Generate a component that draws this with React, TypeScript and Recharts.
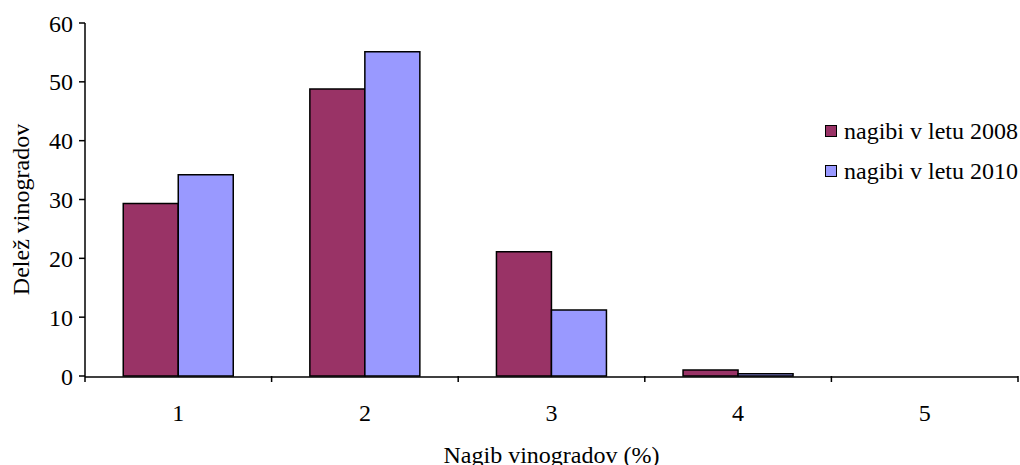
import { BarChart, Bar, XAxis, YAxis } from "recharts";

const categories = ["1", "2", "3", "4", "5"];
const nagibi2008 = [29.3, 48.8, 21.1, 1.0, 0];
const nagibi2010 = [34.2, 55.1, 11.2, 0.4, 0];
const yTicks = [0, 10, 20, 30, 40, 50, 60];
const bandTicks = [0.5, 1.5, 2.5, 3.5, 4.5, 5.5];

const series = [
  { key: "y2008", name: "nagibi v letu 2008", color: "#993366" },
  { key: "y2010", name: "nagibi v letu 2010", color: "#9999FF" },
];

const data = categories.map((c, i) => ({
  cat: c,
  pos: Number(c),
  y2008: nagibi2008[i],
  y2010: nagibi2010[i],
}));

const font = "Liberation Serif, Times New Roman, DejaVu Serif, serif";
const fontSize = 24;

// rotated y title, nudged a little below the plot's middle
const YTitle = ({ viewBox }: any) => {
  const cx = 21;
  const cy = viewBox.y + viewBox.height / 2 + 10;
  return (
    <text
      x={cx}
      y={cy}
      transform={`rotate(-90, ${cx}, ${cy})`}
      textAnchor="middle"
      dominantBaseline="central"
      fill="#000"
      fontSize={fontSize}
      fontFamily={font}
    >
      Delež vinogradov
    </text>
  );
};

export default function App() {
  return (
    <div
      style={{
        position: "absolute",
        left: 0,
        top: 0,
        width: 1020,
        height: 465,
        background: "#fff",
        fontFamily: font,
      }}
    >
      <BarChart
        width={1020}
        height={465}
        data={data}
        margin={{ top: 23, right: 2, left: 0, bottom: 0 }}
        barCategoryGap="20.5%"
        barGap={0}
        style={{ fontFamily: font }}
      >
        <XAxis
          xAxisId="cats"
          dataKey="cat"
          height={88}
          tick={{ fill: "#000", fontSize, fontFamily: font }}
          tickLine={false}
          axisLine={{ stroke: "#000", strokeWidth: 1.5 }}
          tickMargin={21}
          label={{
            value: "Nagib vinogradov (%)",
            position: "insideBottom",
            offset: 2,
            fill: "#000",
            fontSize,
            fontFamily: font,
          }}
        />
        {/* tick marks sit on the category boundaries */}
        <XAxis
          xAxisId="bands"
          dataKey="pos"
          type="number"
          domain={[0.5, 5.5]}
          allowDataOverflow
          ticks={bandTicks}
          interval={0}
          tick={() => <g />}
          tickSize={6}
          tickLine={{ stroke: "#000", strokeWidth: 1.5 }}
          axisLine={false}
          height={1}
        />
        <YAxis
          width={85}
          domain={[0, 60]}
          ticks={yTicks}
          interval={0}
          tick={{ fill: "#000", fontSize, fontFamily: font }}
          tickSize={6}
          tickMargin={6}
          tickLine={{ stroke: "#000", strokeWidth: 1.5 }}
          axisLine={{ stroke: "#000", strokeWidth: 1.5 }}
          label={<YTitle />}
        />
        {series.map((s) => (
          <Bar
            key={s.key}
            xAxisId="cats"
            dataKey={s.key}
            name={s.name}
            fill={s.color}
            stroke="#000"
            strokeWidth={1.5}
            isAnimationActive={false}
          />
        ))}
      </BarChart>
      <div
        style={{
          position: "absolute",
          left: 825,
          top: 111,
          fontSize,
          lineHeight: "40px",
          color: "#000",
        }}
      >
        {series.map((s) => (
          <div key={s.key} style={{ display: "flex", alignItems: "center" }}>
            <span
              style={{
                display: "inline-block",
                width: 10,
                height: 10,
                background: s.color,
                border: "1.5px solid #000",
                marginRight: 7,
              }}
            />
            {s.name}
          </div>
        ))}
      </div>
    </div>
  );
}
